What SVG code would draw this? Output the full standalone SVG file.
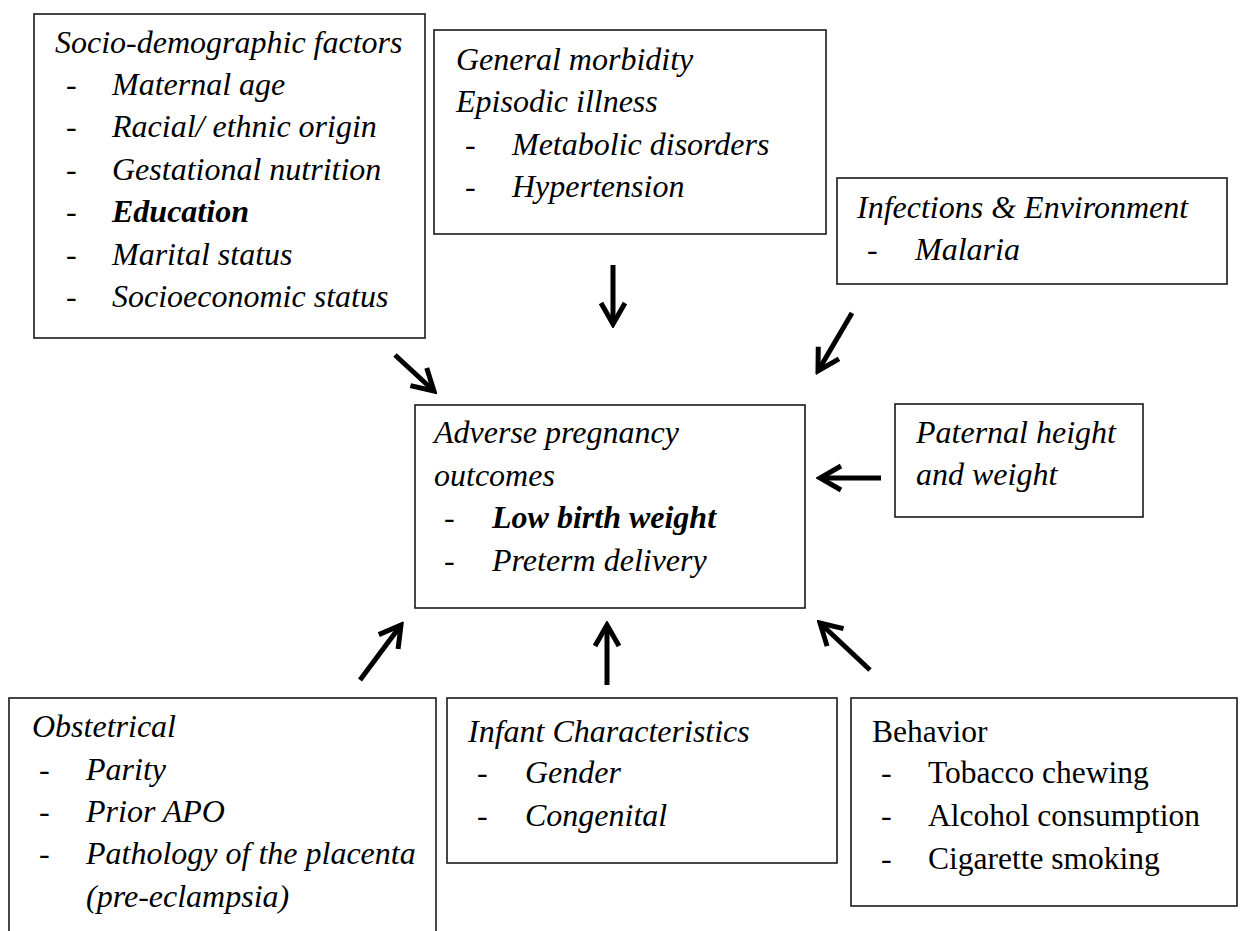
<svg xmlns="http://www.w3.org/2000/svg" width="1246" height="931" viewBox="0 0 1246 931">
<style>
.box{fill:#fff;stroke:#1a1a1a;stroke-width:1.6}
text{font-family:"Liberation Serif","Times New Roman",serif;font-size:32px;fill:#000}
.i{font-style:italic}
.b{font-weight:bold}
.r{font-size:31.5px}
.arr{stroke:#000;stroke-width:5;fill:none}
</style>
<defs>
<marker id="ah" markerUnits="userSpaceOnUse" viewBox="-26 -16 30 32" markerWidth="30" markerHeight="32" refX="0" refY="0" orient="auto">
<path d="M-21,-12 L0,0 L-21,12" fill="none" stroke="#000" stroke-width="5" stroke-linejoin="miter"/>
</marker>
</defs>
<rect width="1246" height="931" fill="#fff"/>
<g id="socio">
<rect class="box" x="34" y="14" width="391" height="324"/>
<text class="i" x="55" y="53">Socio-demographic factors</text>
<text x="66" y="95">-</text><text class="i" x="112" y="95">Maternal age</text>
<text x="66" y="137">-</text><text class="i" x="112" y="137">Racial/ ethnic origin</text>
<text x="66" y="180">-</text><text class="i" x="112" y="180">Gestational nutrition</text>
<text x="66" y="222">-</text><text class="i b" x="112" y="222">Education</text>
<text x="66" y="265">-</text><text class="i" x="112" y="265">Marital status</text>
<text x="66" y="307">-</text><text class="i" x="112" y="307">Socioeconomic status</text>
</g>
<g id="morbidity">
<rect class="box" x="434" y="30" width="392" height="204"/>
<text class="i" x="456" y="70">General morbidity</text>
<text class="i" x="456" y="112">Episodic illness</text>
<text x="465" y="155">-</text><text class="i" x="512" y="155">Metabolic disorders</text>
<text x="465" y="197">-</text><text class="i" x="512" y="197">Hypertension</text>
</g>
<g id="infections">
<rect class="box" x="837" y="178" width="390" height="106"/>
<text class="i" x="857" y="218">Infections &amp; Environment</text>
<text x="867" y="260">-</text><text class="i" x="915" y="260">Malaria</text>
</g>
<g id="paternal">
<rect class="box" x="895" y="404" width="248" height="113"/>
<text class="i" x="916" y="443">Paternal height</text>
<text class="i" x="916" y="485">and weight</text>
</g>
<g id="outcomes">
<rect class="box" x="415" y="405" width="390" height="203"/>
<text class="i" x="434" y="443">Adverse pregnancy</text>
<text class="i" x="434" y="486">outcomes</text>
<text x="444" y="528">-</text><text class="i b" x="492" y="528">Low birth weight</text>
<text x="444" y="571">-</text><text class="i" x="492" y="571">Preterm delivery</text>
</g>
<g id="obstetrical">
<rect class="box" x="9" y="698" width="427" height="250"/>
<text class="i" x="32" y="737">Obstetrical</text>
<text x="39" y="780">-</text><text class="i" x="86" y="780">Parity</text>
<text x="39" y="822">-</text><text class="i" x="86" y="822">Prior APO</text>
<text x="39" y="864">-</text><text class="i" x="86" y="864">Pathology of the placenta</text>
<text class="i" x="86" y="907">(pre-eclampsia)</text>
</g>
<g id="infant">
<rect class="box" x="447" y="698" width="390" height="165"/>
<text class="i" x="468" y="742">Infant Characteristics</text>
<text x="477" y="783">-</text><text class="i" x="525" y="783">Gender</text>
<text x="477" y="826">-</text><text class="i" x="525" y="826">Congenital</text>
</g>
<g id="behavior">
<rect class="box" x="851" y="698" width="386" height="208"/>
<text class="r" x="872" y="742">Behavior</text>
<text x="881" y="783">-</text><text class="r" x="928" y="783">Tobacco chewing</text>
<text x="881" y="826">-</text><text class="r" x="928" y="826">Alcohol consumption</text>
<text x="881" y="869">-</text><text class="r" x="928" y="869">Cigarette smoking</text>
</g>
<g id="connectors">
<line class="arr" x1="395" y1="355" x2="434" y2="391" marker-end="url(#ah)"/>
<line class="arr" x1="613" y1="265" x2="613" y2="324" marker-end="url(#ah)"/>
<line class="arr" x1="852" y1="313" x2="818" y2="371" marker-end="url(#ah)"/>
<line class="arr" x1="881" y1="478" x2="820" y2="478" marker-end="url(#ah)"/>
<line class="arr" x1="360" y1="680" x2="401" y2="625" marker-end="url(#ah)"/>
<line class="arr" x1="607" y1="685" x2="607" y2="625" marker-end="url(#ah)"/>
<line class="arr" x1="870" y1="670" x2="820" y2="623" marker-end="url(#ah)"/>
</g>
</svg>
